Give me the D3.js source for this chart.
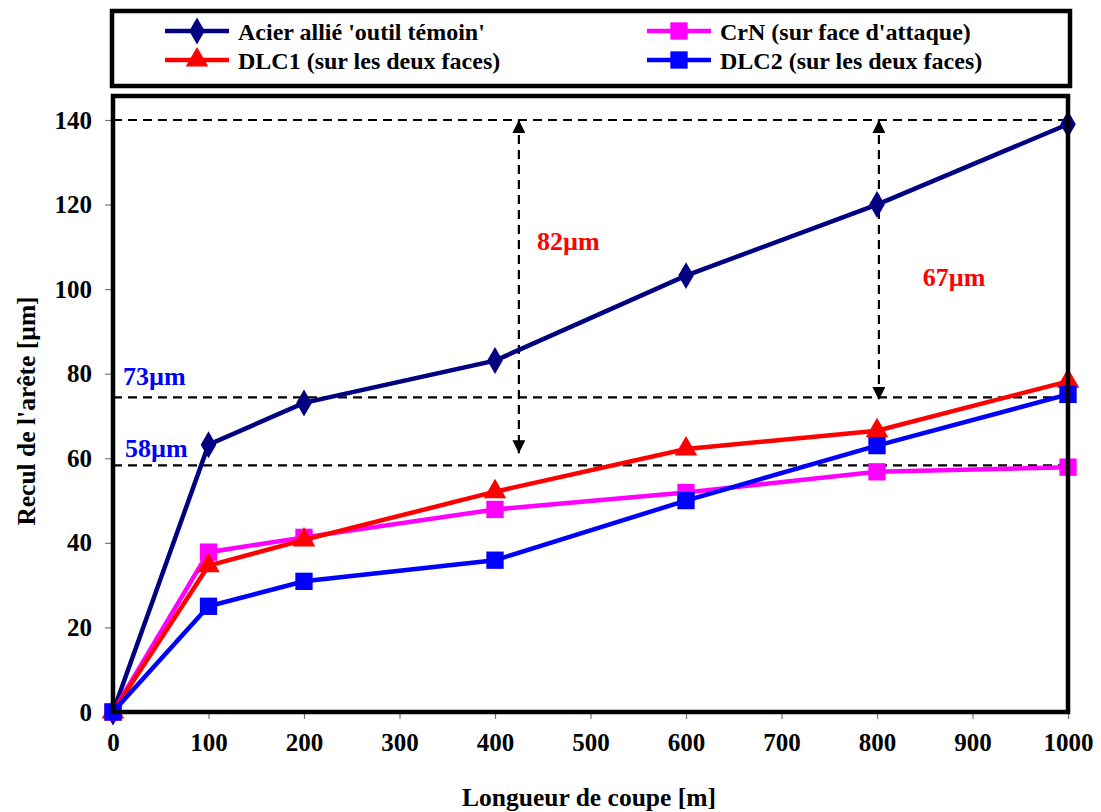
<!DOCTYPE html>
<html><head><meta charset="utf-8">
<script src="https://cdn.jsdelivr.net/npm/d3@7"></script>
<style>body{margin:0;background:#fff}</style>
</head><body>
<svg id="c" width="1101" height="812"></svg>
<script>
const xValues = [0, 100, 200, 400, 600, 800, 1000];
const acier = [0, 63.2, 73.1, 83.1, 103.2, 120, 139];
const crn   = [0, 37.8, 41.3, 47.9, 51.9, 56.8, 57.9];
const dlc1  = [0, 34.6, 40.7, 52.1, 62.2, 66.5, 78.2];
const dlc2  = [0, 25, 30.9, 35.9, 50, 63, 75.1];
const seriesNames = ["Acier allié 'outil témoin'", "CrN (sur face d'attaque)", "DLC1 (sur les deux faces)", "DLC2 (sur les deux faces)"];
const xTicks = [0,100,200,300,400,500,600,700,800,900,1000];
const yTicks = [0,20,40,60,80,100,120,140];
const refLines = [140, 74.4, 58.3];
const arrows = [{x: 425, y0: 140, y1: 61.2}, {x: 802, y0: 140, y1: 73.8}];
const redNotes = [{x: 444, y: 109.3, t: "82µm"}, {x: 848, y: 100.7, t: "67µm"}];
const blueNotes = [{x: 10.5, y: 77.3, t: "73µm"}, {x: 12.5, y: 60.3, t: "58µm"}];

const font = "'Liberation Serif','Times New Roman',serif";
const svg = d3.select("#c");
const L = 113, R = 1068, T = 96, B = 712;
const x = d3.scaleLinear().domain([0,1000]).range([L,R]);
const y = d3.scaleLinear().domain([0,140]).range([B,120]);

// axes
const gx = svg.append("g").attr("transform",`translate(0,${B})`)
  .call(d3.axisBottom(x).tickValues(xTicks).tickSize(7).tickPadding(14).tickFormat(d3.format("d")));
const gy = svg.append("g").attr("transform",`translate(${L},0)`)
  .call(d3.axisLeft(y).tickValues(yTicks).tickSize(8).tickPadding(13).tickFormat(d3.format("d")));
[gx,gy].forEach(g=>{
  g.select(".domain").remove();
  g.selectAll(".tick line").attr("stroke","#777").attr("stroke-width",1.2);
  g.selectAll("text").attr("font-family",font).attr("font-weight","bold").attr("font-size",25).attr("fill","#000");
});

// reference dashed lines
svg.append("g").selectAll("line").data(refLines).join("line")
  .attr("x1",L).attr("x2",R).attr("y1",d=>y(d)).attr("y2",d=>y(d))
  .attr("stroke","#000").attr("stroke-width",2.2).attr("stroke-dasharray","9,6");

// arrows
const defs = svg.append("defs");
defs.append("marker").attr("id","ah").attr("viewBox","0 0 10 10").attr("refX",10).attr("refY",5)
  .attr("markerWidth",15).attr("markerHeight",13).attr("markerUnits","userSpaceOnUse").attr("orient","auto-start-reverse")
  .append("path").attr("d","M0,0 L10,5 L0,10 Z").attr("fill","#000");
svg.append("g").selectAll("line").data(arrows).join("line")
  .attr("x1",d=>x(d.x)).attr("x2",d=>x(d.x)).attr("y1",d=>y(d.y0)).attr("y2",d=>y(d.y1))
  .attr("stroke","#000").attr("stroke-width",2.2).attr("stroke-dasharray","9,6")
  .attr("marker-start","url(#ah)").attr("marker-end","url(#ah)");

// notes
svg.append("g").selectAll("text").data(redNotes).join("text")
  .attr("x",d=>x(d.x)).attr("y",d=>y(d.y)).text(d=>d.t)
  .attr("font-family",font).attr("font-weight","bold").attr("font-size",26).attr("fill","#ff0000");
svg.append("g").selectAll("text").data(blueNotes).join("text")
  .attr("x",d=>x(d.x)).attr("y",d=>y(d.y)).text(d=>d.t)
  .attr("font-family",font).attr("font-weight","bold").attr("font-size",26).attr("fill","#0000ff");

// series
const series = [
  {name: seriesNames[0], vals: acier, color: "#000080", sym: d3.symbolDiamond, size: 210},
  {name: seriesNames[1], vals: crn,   color: "#ff00ff", sym: d3.symbolSquare,  size: 300},
  {name: seriesNames[2], vals: dlc1,  color: "#ff0000", sym: d3.symbolTriangle, size: 220},
  {name: seriesNames[3], vals: dlc2,  color: "#0000ff", sym: d3.symbolSquare,  size: 300},
];
const line = d3.line().x(d=>x(d[0])).y(d=>y(d[1]));
series.forEach(s=>{
  const pts = xValues.map((v,i)=>[v, s.vals[i]]);
  const g = svg.append("g");
  g.append("path").attr("d",line(pts)).attr("fill","none").attr("stroke",s.color).attr("stroke-width",4.5);
  g.selectAll("path.m").data(pts).join("path").attr("class","m")
    .attr("transform",d=>`translate(${x(d[0])},${y(d[1])})`)
    .attr("d",d3.symbol().type(s.sym).size(s.size)).attr("fill",s.color);
});

// plot frame
svg.append("rect").attr("x",L).attr("y",T).attr("width",R-L).attr("height",B-T)
  .attr("fill","none").attr("stroke","#000").attr("stroke-width",4.5);

// axis titles
svg.append("text").attr("x",589).attr("y",806).attr("text-anchor","middle")
  .attr("font-family",font).attr("font-weight","bold").attr("font-size",25.5).text("Longueur de coupe [m]");
svg.append("text").attr("transform",`translate(35,411) rotate(-90)`).attr("text-anchor","middle")
  .attr("font-family",font).attr("font-weight","bold").attr("font-size",25.5).text("Recul de l'arête [µm]");

// legend
svg.append("rect").attr("x",112).attr("y",11).attr("width",958).attr("height",75)
  .attr("fill","#fff").attr("stroke","#000").attr("stroke-width",4.5);
const legPos = [[165,31],[647,31],[165,60],[647,60]];
series.forEach((s,i)=>{
  const [lx,ly] = legPos[i];
  const g = svg.append("g").attr("transform",`translate(${lx},${ly})`);
  g.append("line").attr("x1",0).attr("x2",64).attr("y1",0).attr("y2",0).attr("stroke",s.color).attr("stroke-width",4.5);
  g.append("path").attr("transform","translate(32,0)").attr("d",d3.symbol().type(s.sym).size(s.size)).attr("fill",s.color);
  g.append("text").attr("x",73).attr("y",8.5).text(s.name)
    .attr("font-family",font).attr("font-weight","bold").attr("font-size",24).attr("fill","#000");
});
</script>
</body></html>
